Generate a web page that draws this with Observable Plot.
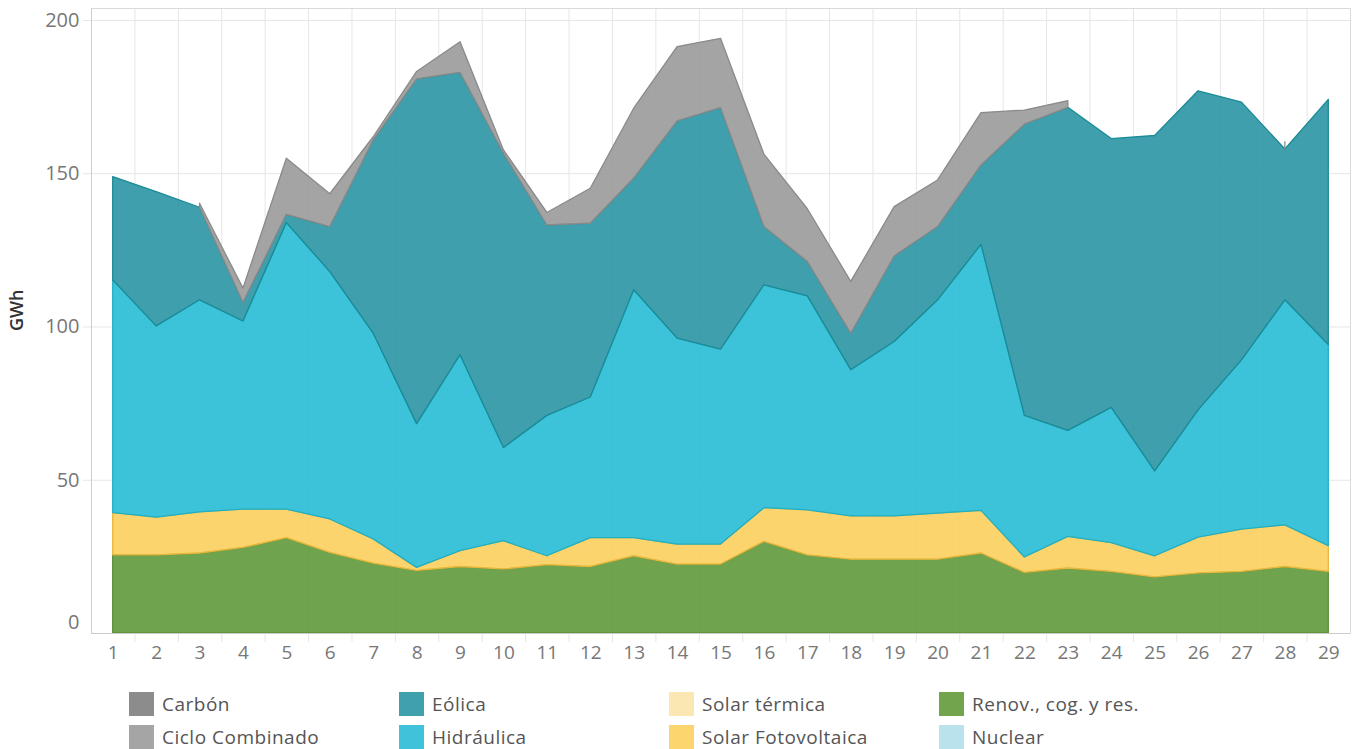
<!DOCTYPE html>
<html>
<head>
<meta charset="utf-8">
<script src="https://cdn.jsdelivr.net/npm/d3@7"></script>
<script src="https://cdn.jsdelivr.net/npm/@observablehq/plot@0.6"></script>
<style>
  body { margin: 0; background: #fff; font-family: "Open Sans", sans-serif; }
  #wrap { position: relative; width: 1358px; height: 749px; overflow: hidden; }
  .leg { position: absolute; display: flex; align-items: center; font-size: 19px; letter-spacing: 0.5px; color: #555; white-space: nowrap; }
  .sw { width: 25px; height: 24px; margin-right: 8px; flex: none; }
</style>
</head>
<body>
<div id="wrap"></div>
<script>
// ---- Data (GWh per day) ----
const days = [1,2,3,4,5,6,7,8,9,10,11,12,13,14,15,16,17,18,19,20,21,22,23,24,25,26,27,28,29];

const nuclear = [null,null,null,null,null,null,null,null,null,null,null,null,null,null,null,null,null,null,null,null,null,null,null,null,null,null,null,null,null];
const renov = [25.5,25.5,26.1,27.9,31.1,26.3,22.8,20.4,21.7,20.9,22.3,21.7,25.2,22.5,22.5,29.9,25.5,24.1,24.1,24.1,26.1,19.8,21.2,20.1,18.3,19.6,20.1,21.7,20.1];
const solarFV = [13.8,12.3,13.4,12.5,9.3,10.9,7.9,1.0,5.2,9.2,2.9,9.4,5.9,6.5,6.5,11.0,14.7,14.1,14.1,15.0,13.9,5.0,10.3,9.4,6.9,11.7,13.8,13.6,8.4];
const solarTermica = [null,null,null,null,null,null,null,null,null,null,null,null,null,null,null,null,null,null,null,null,null,null,null,null,null,null,null,null,null];
const hidraulica = [75.9,62.4,69.2,61.4,93.5,80.7,67.1,46.9,63.9,30.4,45.8,45.9,80.9,67.2,63.6,72.7,69.8,47.7,56.9,69.6,86.8,46.2,34.6,44.1,27.7,41.5,55.2,73.4,65.6];
const eolica = [33.7,43.8,30.2,6.1,2.7,14.7,63.1,112.5,92.1,96.0,62.1,56.7,36.4,70.9,78.8,19.0,11.2,11.9,27.9,23.9,25.9,95.0,105.4,87.7,109.4,104.1,84.1,49.2,80.0];
const cicloCombinado = [null,null,1.3,4.6,18.3,10.7,1.0,2.4,10.0,1.1,4.1,11.4,22.8,24.2,22.6,23.6,17.2,16.9,16.1,15.2,17.1,4.6,2.2,null,null,null,null,2.4,null];
const carbon = [null,null,null,null,null,null,null,null,null,null,null,null,null,null,null,null,null,null,null,null,null,null,null,null,null,null,null,null,null];

const yTicks = [0, 50, 100, 150, 200];
const gridDays = [1.5,2.5,3.5,4.5,5.5,6.5,7.5,8.5,9.5,10.5,11.5,12.5,13.5,14.5,15.5,16.5,17.5,18.5,19.5,20.5,21.5,22.5,23.5,24.5,25.5,26.5,27.5,28.5];

// stack order bottom -> top
const stackNames = ["Nuclear","Renov., cog. y res.","Solar Fotovoltaica","Solar térmica","Hidráulica","Eólica","Ciclo Combinado","Carbón"];
const stackValues = [nuclear, renov, solarFV, solarTermica, hidraulica, eolica, cicloCombinado, carbon];

// legend order (column-major, 2 rows)
const legendNames = ["Carbón","Ciclo Combinado","Eólica","Hidráulica","Solar térmica","Solar Fotovoltaica","Renov., cog. y res.","Nuclear"];

// ---- Styles ----
const swatchColor = {
  "Carbón": "#8c8c8c", "Ciclo Combinado": "#a5a5a5", "Eólica": "#40a0ab", "Hidráulica": "#3ec3da",
  "Solar térmica": "#fbe7b1", "Solar Fotovoltaica": "#fdd56f", "Renov., cog. y res.": "#72a34d", "Nuclear": "#b9e2ec"
};
const fillColor = {
  "Carbón": "#7f7f7f", "Ciclo Combinado": "#9a9a9a", "Eólica": "#2b95a3", "Hidráulica": "#27bcd6",
  "Solar térmica": "#fbe4a6", "Solar Fotovoltaica": "#fccf5e", "Renov., cog. y res.": "#61993a", "Nuclear": "#abdce8"
};
const strokeColor = {
  "Carbón": "#6e6e6e", "Ciclo Combinado": "#8a8a8a", "Eólica": "#1b8b97", "Hidráulica": "#1fb0c6",
  "Solar térmica": "#e8cf8a", "Solar Fotovoltaica": "#e8b63a", "Renov., cog. y res.": "#5c8f3c", "Nuclear": "#8cc8d8"
};

// ---- Build stacked table ----
const rows = [];
days.forEach((day, i) => {
  let base = 0;
  stackNames.forEach((name, k) => {
    const v = stackValues[k][i];
    if (v == null) {
      rows.push({day, name, y1: NaN, y2: NaN});
    } else {
      rows.push({day, name, y1: base, y2: base + v});
      base += v;
    }
  });
});

const areaMarks = stackNames.map(name =>
  Plot.area(rows.filter(r => r.name === name), {
    x1: "day", y1: "y1", y2: "y2",
    fill: fillColor[name], fillOpacity: 0.9,
    stroke: strokeColor[name], strokeWidth: 1.3, strokeLinejoin: "round"
  })
);

const chart = Plot.plot({
  width: 1358,
  height: 670,
  marginLeft: 91,
  marginRight: 8,
  marginTop: 8,
  marginBottom: 37,
  style: { fontFamily: "'Open Sans', sans-serif", background: "#fff" },
  x: { type: "linear", domain: [0.5, 29.5], axis: null },
  y: { domain: [0, 203.9], axis: null },
  marks: [
    Plot.ruleY(yTicks.filter(d => d > 0), { stroke: "#e6e6e6", insetLeft: -8 }),
    Plot.ruleX(gridDays, { stroke: "#e6e6e6", insetBottom: -9 }),
    ...areaMarks,
    Plot.frame({ stroke: "#dadada" }),
    Plot.ruleX([0.5], { stroke: "#cdcdcd" }),
    Plot.ruleY([0], { stroke: "#cdcdcd" }),
    Plot.text(yTicks.filter(d => d > 0), { y: d => d, frameAnchor: "left", textAnchor: "end", dx: -12, fill: "#777", fontSize: 20 }),
    Plot.text(yTicks.filter(d => d === 0), { y: d => d, frameAnchor: "left", textAnchor: "end", dx: -12, dy: -11, fill: "#777", fontSize: 20 }),
    Plot.text(days, { x: d => d, frameAnchor: "bottom", dy: 25, fill: "#777", fontSize: 19 }),
    Plot.text(["GWh"], { frameAnchor: "left", rotate: -90, dx: -74, dy: 10, fill: "#333", fontSize: 18, fontWeight: 600 })
  ]
});

const wrap = document.getElementById("wrap");
chart.style.position = "absolute";
chart.style.left = "0px";
chart.style.top = "0px";
wrap.appendChild(chart);

legendNames.forEach((name, i) => {
  const col = Math.floor(i / 2), row = i % 2;
  const item = document.createElement("div");
  item.className = "leg";
  item.style.left = (129 + col * 270) + "px";
  item.style.top = (691 + row * 33) + "px";
  const sw = document.createElement("div");
  sw.className = "sw";
  sw.style.background = swatchColor[name];
  const tx = document.createElement("span");
  tx.textContent = name;
  item.appendChild(sw);
  item.appendChild(tx);
  wrap.appendChild(item);
});
</script>
</body>
</html>
